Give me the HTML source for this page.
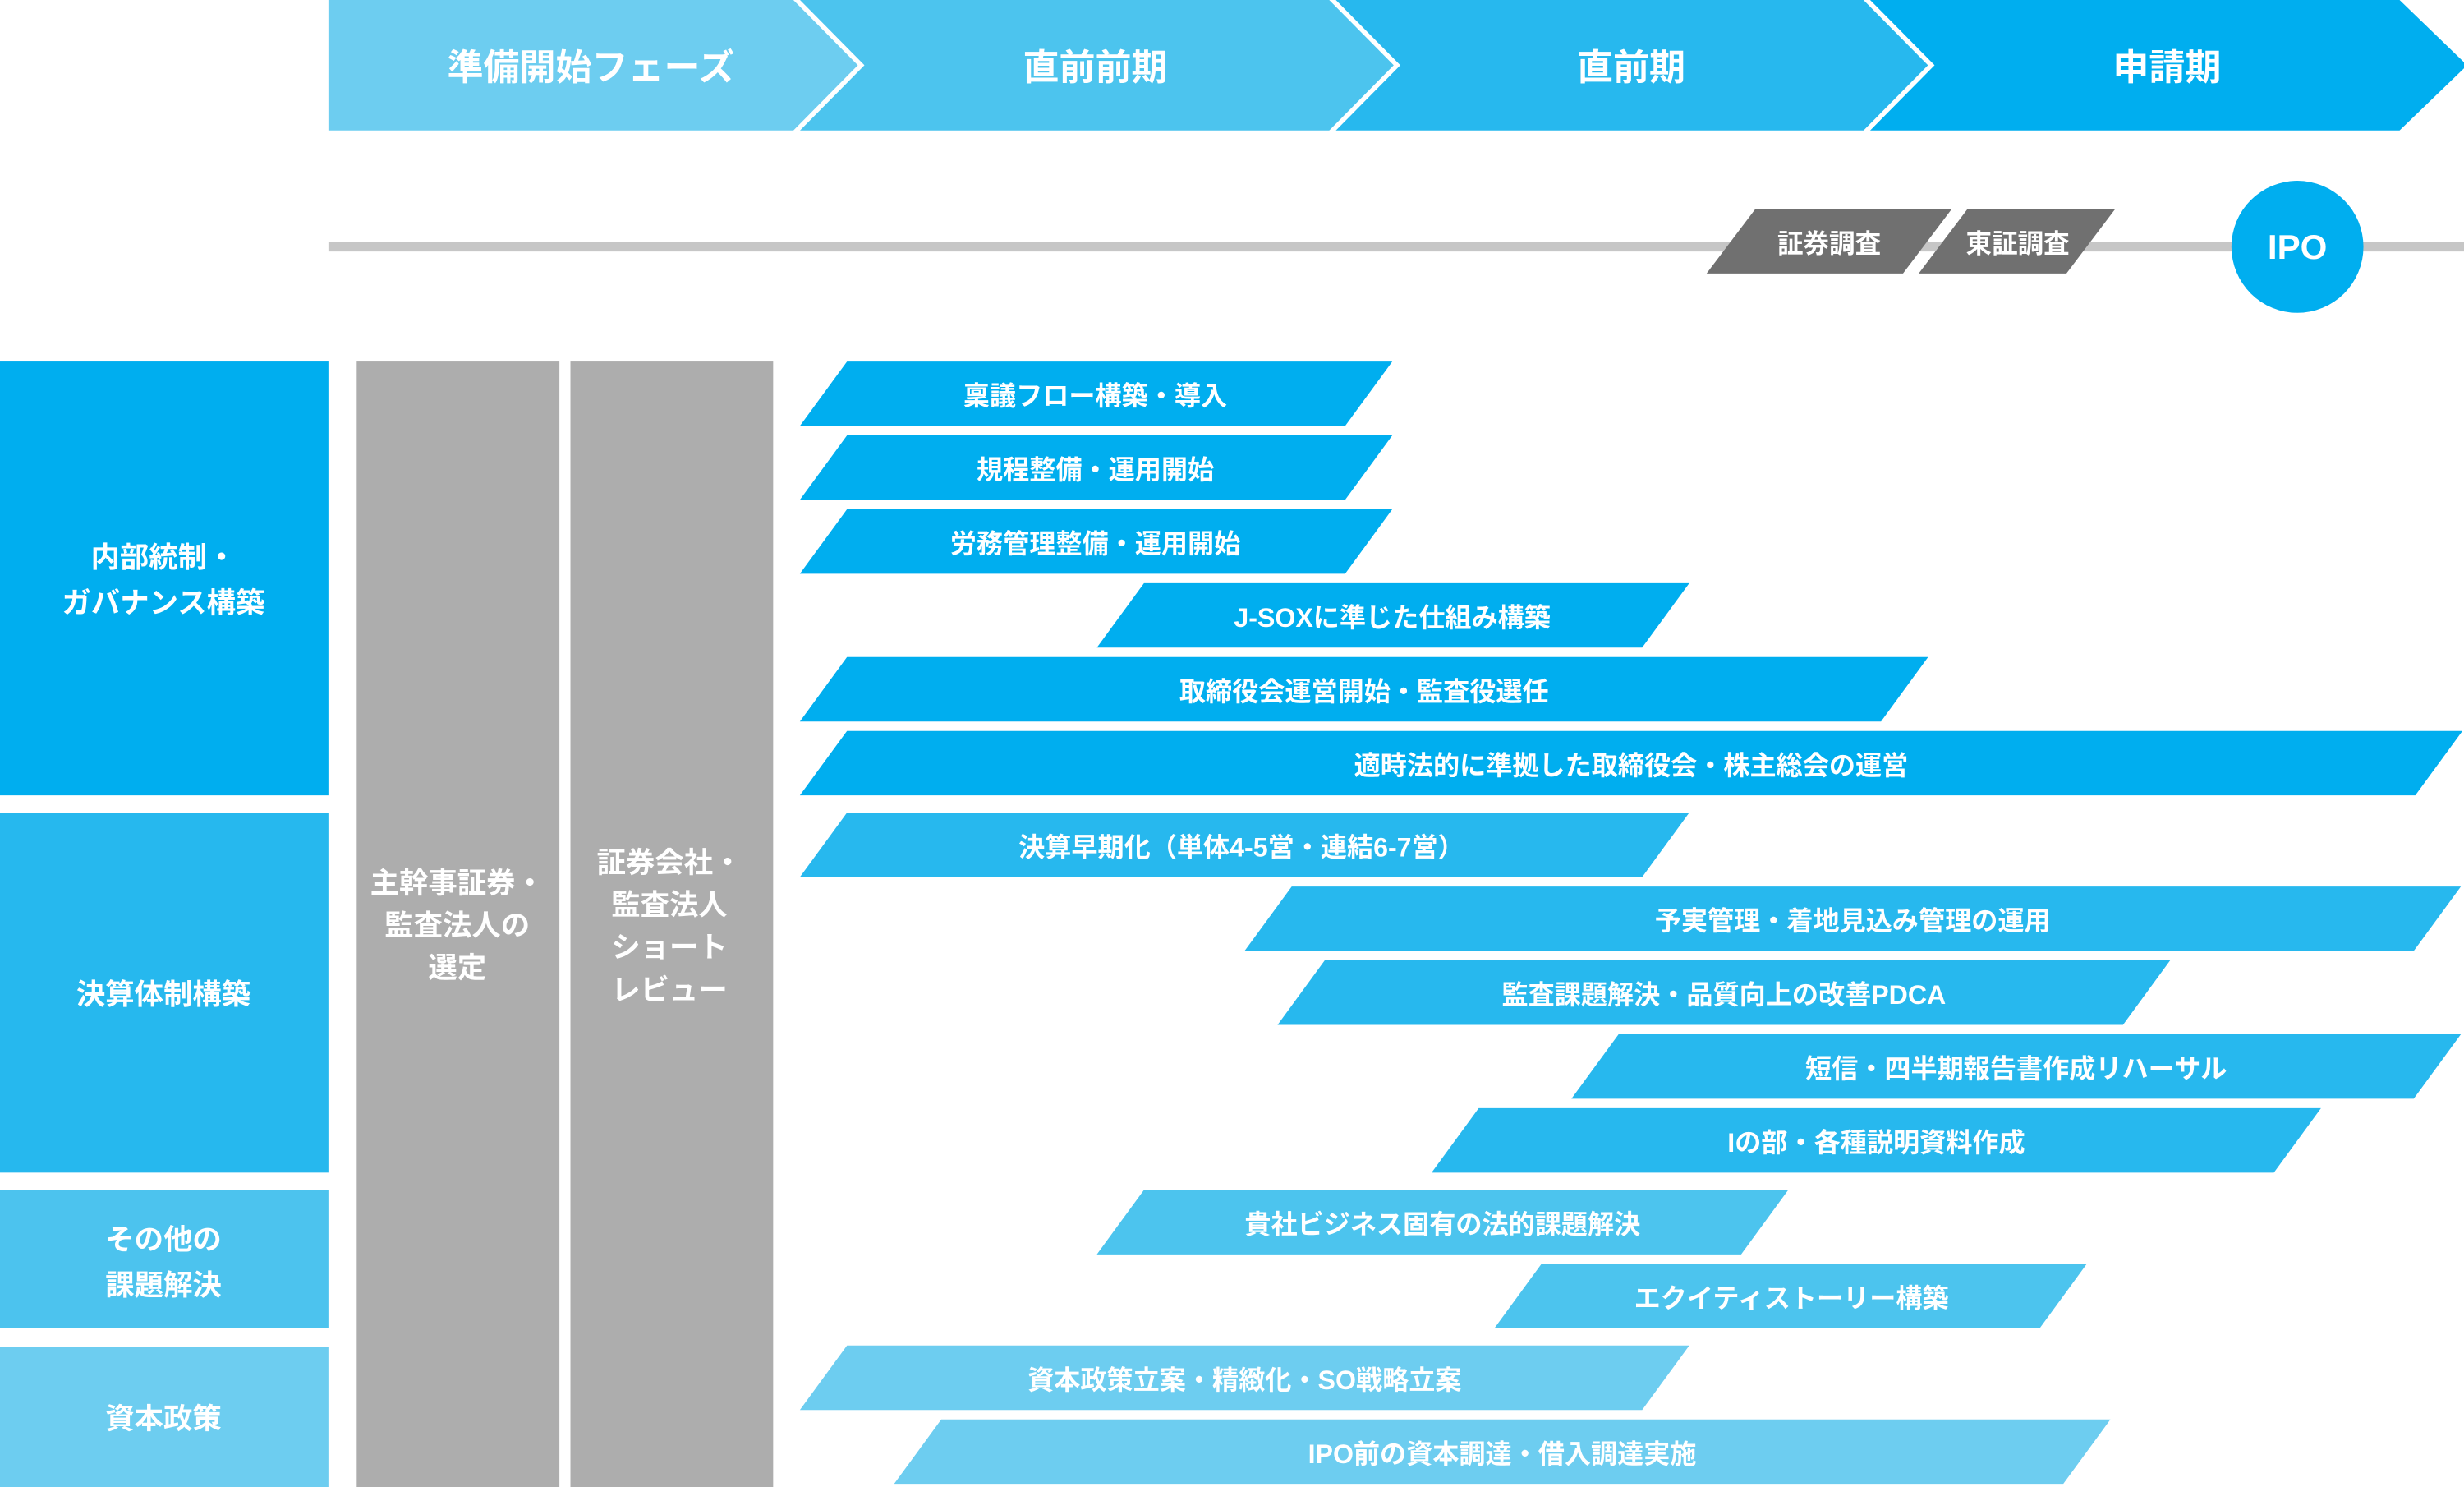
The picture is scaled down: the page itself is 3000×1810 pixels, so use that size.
<!DOCTYPE html>
<html><head><meta charset="utf-8"><style>html,body{margin:0;padding:0;background:#fff}svg{display:block}text{font-family:"Liberation Sans","Noto Sans CJK JP",sans-serif;font-weight:bold;fill:#fff}</style></head><body>
<svg width="3000" height="1810" viewBox="0 0 1568 946" preserveAspectRatio="none" xmlns="http://www.w3.org/2000/svg">
<polygon fill="#6dcdf0" points="209,0 505,0 548,41.5 505,83 209,83"/>
<polygon fill="#4cc4ee" points="505,0 846,0 889,41.5 846,83 505,83 548,41.5"/>
<polygon fill="#27b8ee" points="846,0 1186,0 1229,41.5 1186,83 846,83 889,41.5"/>
<polygon fill="#00aeef" points="1186,0 1527,0 1570,41.5 1527,83 1186,83 1229,41.5"/>
<g fill="none" stroke="#fff" stroke-width="3">
<polyline points="505,-2 548,41.5 505,85"/>
<polyline points="846,-2 889,41.5 846,85"/>
<polyline points="1186,-2 1229,41.5 1186,85"/>
</g>
<g font-size="23" text-anchor="middle" dominant-baseline="central">
<text x="376" y="43">準備開始フェーズ</text>
<text x="697" y="43">直前前期</text>
<text x="1038" y="43">直前期</text>
<text x="1379" y="43">申請期</text>
</g>
<rect x="209" y="154" width="1359" height="6" fill="#c6c6c6"/>
<polygon fill="#707070" points="1086,174 1117,133 1242,133 1211,174"/>
<polygon fill="#707070" points="1221,174 1252,133 1346,133 1315,174"/>
<circle cx="1462" cy="157" r="42" fill="#00aeef"/>
<g font-size="16.5" text-anchor="middle" dominant-baseline="central">
<text x="1164" y="155">証券調査</text>
<text x="1284" y="155">東証調査</text>
</g>
<text x="1462" y="157" font-size="22" text-anchor="middle" dominant-baseline="central">IPO</text>
<rect x="0" y="230" width="209" height="276" fill="#00aeef"/>
<rect x="0" y="517" width="209" height="229" fill="#26b8ee"/>
<rect x="0" y="757" width="209" height="88" fill="#4cc3ee"/>
<rect x="0" y="857" width="209" height="89" fill="#6dcdf0"/>
<rect x="227" y="230" width="129" height="716" fill="#adadad"/>
<rect x="363" y="230" width="129" height="716" fill="#adadad"/>
<g font-size="18.5" text-anchor="middle" dominant-baseline="central">
<text x="104" y="355">内部統制・</text>
<text x="104" y="384">ガバナンス構築</text>
<text x="104" y="633">決算体制構築</text>
<text x="104" y="789">その他の</text>
<text x="104" y="818">課題解決</text>
<text x="104" y="903">資本政策</text>
<text x="291" y="562">主幹事証券・</text>
<text x="291" y="589">監査法人の</text>
<text x="291" y="616">選定</text>
<text x="426" y="549">証券会社・</text>
<text x="426" y="576">監査法人</text>
<text x="426" y="603">ショート</text>
<text x="426" y="630">レビュー</text>
</g>
<g>
<polygon fill="#00aeef" points="509,271 539,230 886,230 856,271"/>
<polygon fill="#00aeef" points="509,318 539,277 886,277 856,318"/>
<polygon fill="#00aeef" points="509,365 539,324 886,324 856,365"/>
<polygon fill="#00aeef" points="698,412 728,371 1075,371 1045,412"/>
<polygon fill="#00aeef" points="509,459 539,418 1227,418 1197,459"/>
<polygon fill="#00aeef" points="509,506 539,465 1567,465 1537,506"/>
<polygon fill="#27b8ee" points="509,558 539,517 1075,517 1045,558"/>
<polygon fill="#27b8ee" points="792,605 822,564 1566,564 1536,605"/>
<polygon fill="#27b8ee" points="813,652 843,611 1381,611 1351,652"/>
<polygon fill="#27b8ee" points="1000,699 1030,658 1566,658 1536,699"/>
<polygon fill="#27b8ee" points="911,746 941,705 1477,705 1447,746"/>
<polygon fill="#4cc4ee" points="698,798 728,757 1138,757 1108,798"/>
<polygon fill="#4cc4ee" points="951,845 981,804 1328,804 1298,845"/>
<polygon fill="#6dcdf0" points="509,897 539,856 1075,856 1045,897"/>
<polygon fill="#6dcdf0" points="569,944 599,903 1343,903 1313,944"/>
</g>
<g font-size="16.8" text-anchor="middle" dominant-baseline="central">
<text x="697" y="252">稟議フロー構築・導入</text>
<text x="697" y="299">規程整備・運用開始</text>
<text x="697" y="346">労務管理整備・運用開始</text>
<text x="886" y="393">J-SOXに準じた仕組み構築</text>
<text x="868" y="440">取締役会運営開始・監査役選任</text>
<text x="1038" y="487">適時法的に準拠した取締役会・株主総会の運営</text>
<text x="790" y="539">決算早期化（単体4-5営・連結6-7営）</text>
<text x="1179" y="586">予実管理・着地見込み管理の運用</text>
<text x="1097" y="633">監査課題解決・品質向上の改善PDCA</text>
<text x="1283" y="680">短信・四半期報告書作成リハーサル</text>
<text x="1194" y="727">Iの部・各種説明資料作成</text>
<text x="918" y="779">貴社ビジネス固有の法的課題解決</text>
<text x="1140" y="826">エクイティストーリー構築</text>
<text x="792" y="878">資本政策立案・精緻化・SO戦略立案</text>
<text x="956" y="925">IPO前の資本調達・借入調達実施</text>
</g>
</svg>
</body></html>
